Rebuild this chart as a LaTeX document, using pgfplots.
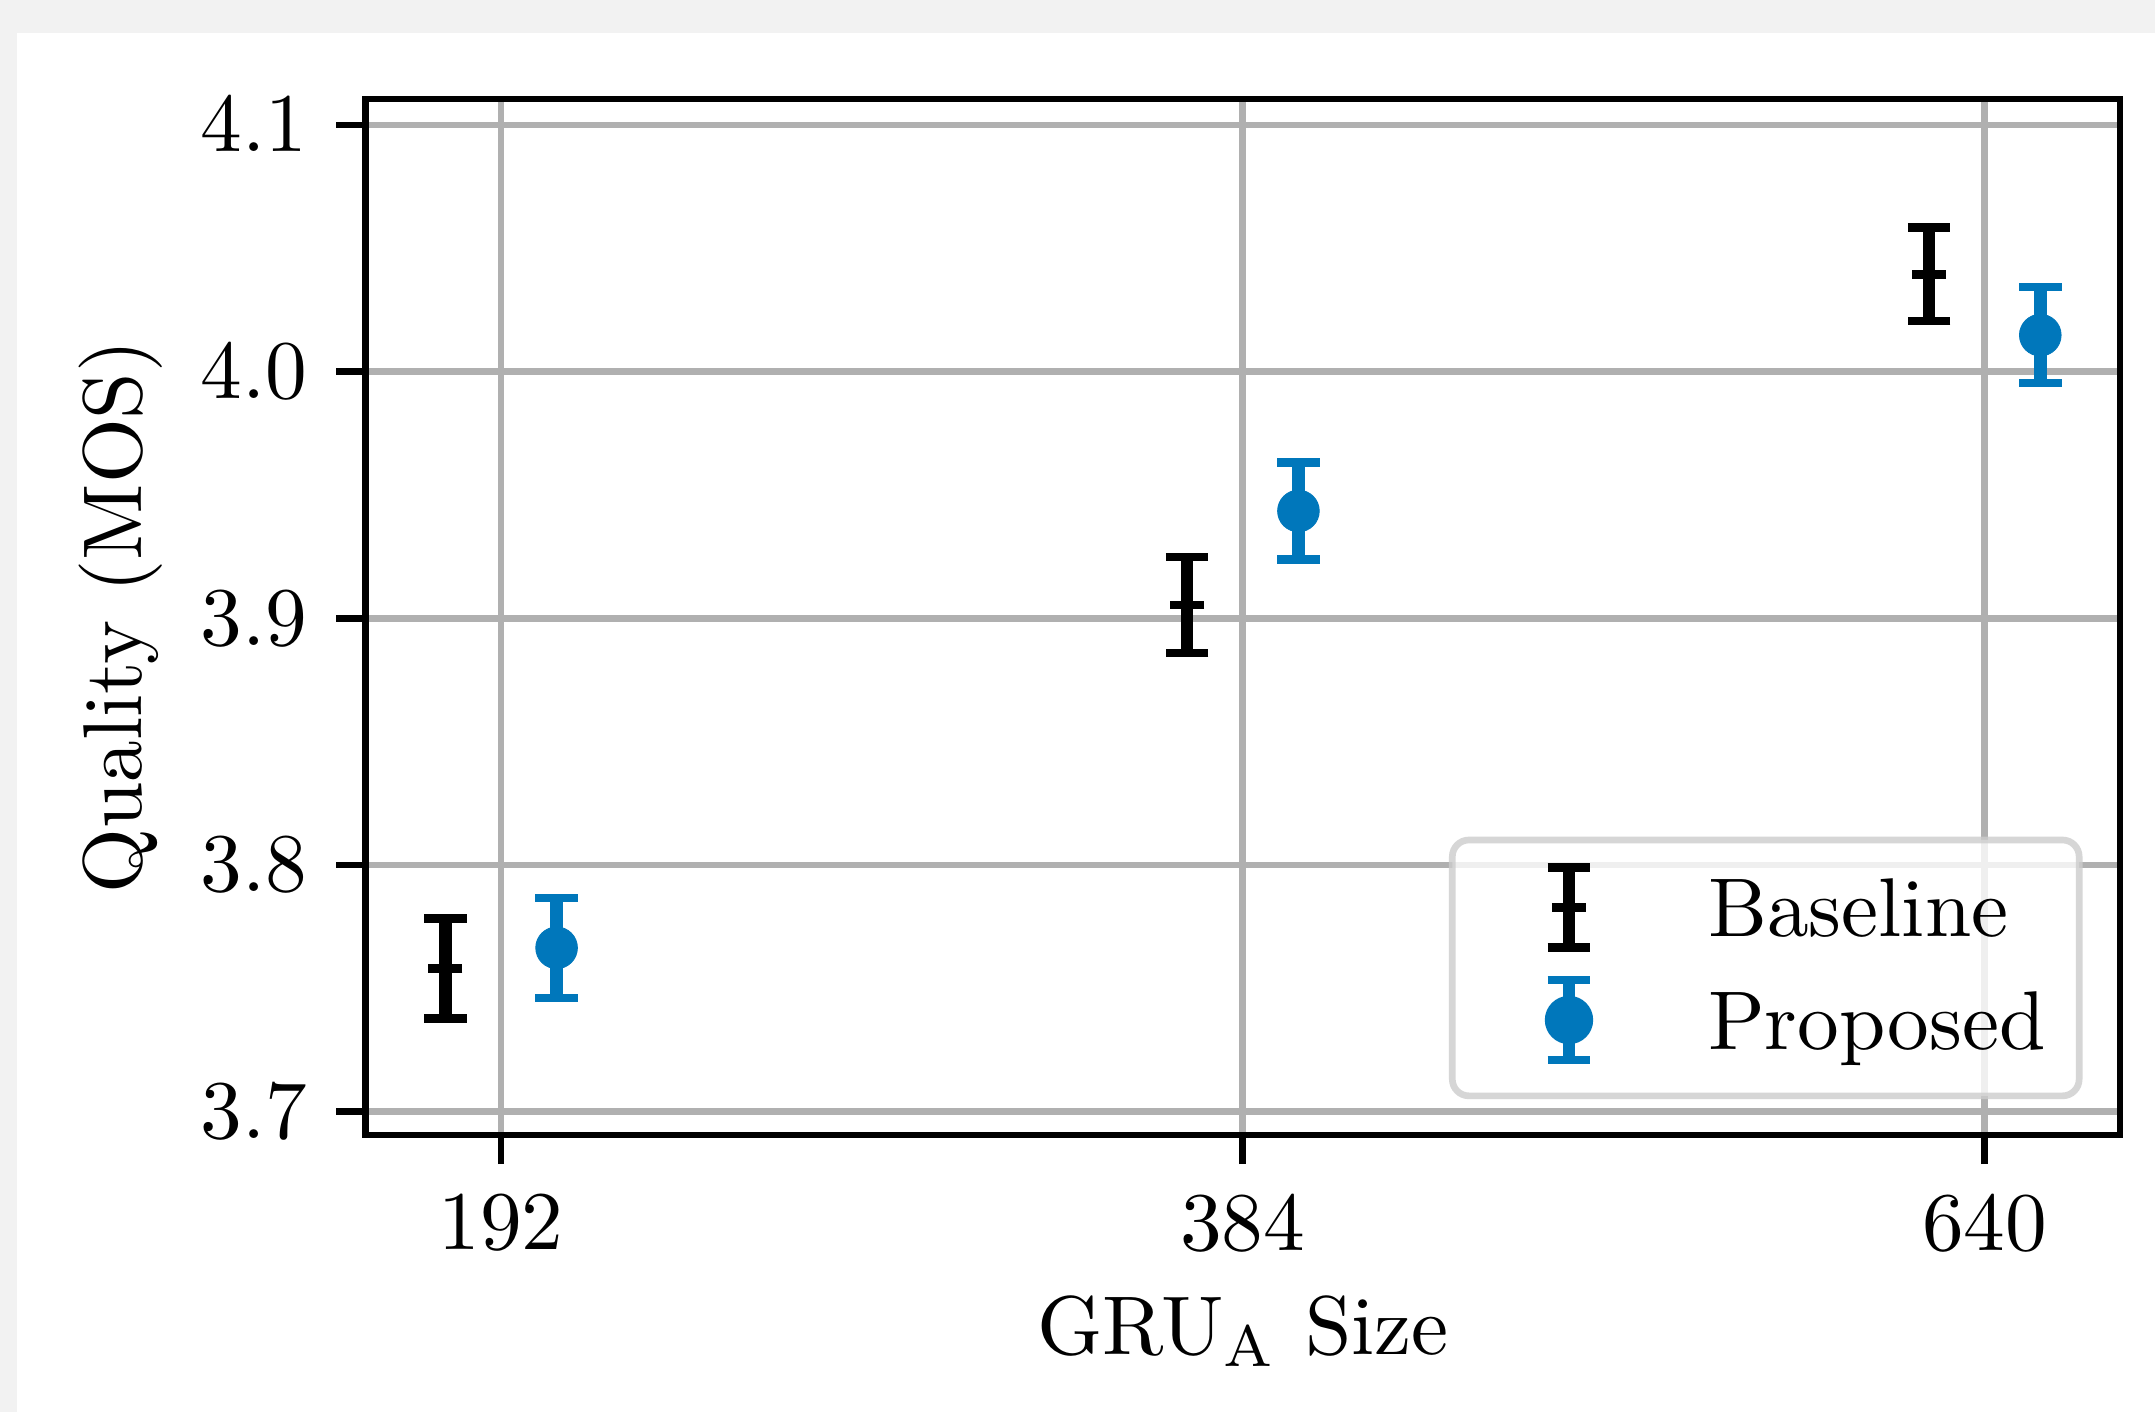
\documentclass[border=0pt]{standalone}
\usepackage{pgfplots}
\pgfplotsset{compat=1.18}
\definecolor{tolblue}{HTML}{0077BB}
\definecolor{gridgray}{HTML}{B0B0B0}
\definecolor{bggray}{HTML}{F2F2F2}
\definecolor{legframe}{HTML}{CCCCCC}
\begin{document}
\begin{tikzpicture}
\path[use as bounding box, fill=bggray] (-43.86pt,-33.24pt) rectangle (214.7pt,136.18pt);
\fill[white] (-41.76pt,-33.24pt) rectangle (214.7pt,132.22pt);
\begin{axis}[
  at={(0pt,0pt)}, anchor=south west,
  scale only axis, width=210.5pt, height=124.3pt,
  xmin=-0.1825, xmax=2.1825, ymin=3.6905, ymax=4.1105,
  xtick={0,1,2}, xticklabels={192,384,640},
  ytick={3.7,3.8,3.9,4.0,4.1},
  yticklabel style={/pgf/number format/.cd, fixed, fixed zerofill, precision=1},
  tick align=outside, xtick pos=left, ytick pos=left,
  major tick length=3.5pt,
  tick style={black, line width=0.8pt},
  axis line style={line width=0.8pt},
  grid=major, major grid style={gridgray, line width=0.8pt},
  xlabel={GRU$_{\mathrm{A}}$ Size}, ylabel={Quality (MOS)},
  xlabel style={at={(axis description cs:0.5,-0.2116)}, anchor=base},
  ylabel style={at={(axis description cs:-0.1278,0.5)}, anchor=base},
  legend cell align=left,
  legend style={at={(axis description cs:0.9786,0.0346)}, anchor=south east,
    draw=legframe, draw opacity=0.8, line width=0.8pt, rounded corners=2pt,
    fill=white, fill opacity=0.8, text opacity=1,
    inner xsep=4pt, inner ysep=4.1pt, row sep=4.5pt, column sep=6.7pt,
    nodes={inner sep=0pt, text height=7.5pt, text depth=1.5pt}},
]
\addplot[black, only marks, mark=-, mark size=2.05pt, mark options={line width=1pt},
  error bars/.cd, y dir=both, y explicit, error mark=|,
  error bar style={line width=1.5pt}, error mark options={line width=1pt, mark size=2.55pt},
  /pgfplots/legend image code/.code={
    \path[draw=none, fill=none] (0pt,0pt) -- (20pt,0pt);
    \draw[overlay, black, line width=1.5pt, opacity=1] (10pt,-4.3pt) -- (10pt,5.3pt);
    \draw[overlay, black, line width=1pt, opacity=1] (7.45pt,-4.3pt) -- (12.55pt,-4.3pt) (7.45pt,5.3pt) -- (12.55pt,5.3pt) (7.95pt,0.5pt) -- (12.05pt,0.5pt);
  }]
  table[x=x, y=y, y error=e] {
  x y e
  -0.075 3.7580 0.0203
  0.925 3.9054 0.0195
  1.925 4.0394 0.0190
  };
\addlegendentry{Baseline}
\addplot[tolblue, only marks, mark=*, mark size=2.5pt, mark options={fill=tolblue, draw=tolblue, line width=0.1pt},
  error bars/.cd, y dir=both, y explicit, error mark=|,
  error bar style={line width=1.5pt, tolblue}, error mark options={line width=1pt, mark size=2.55pt, tolblue},
  /pgfplots/legend image code/.code={
    \path[draw=none, fill=none] (0pt,0pt) -- (20pt,0pt);
    \draw[overlay, tolblue, line width=1.5pt, opacity=1] (10pt,-4.3pt) -- (10pt,5.3pt);
    \draw[overlay, tolblue, line width=1pt, opacity=1] (7.45pt,-4.3pt) -- (12.55pt,-4.3pt) (7.45pt,5.3pt) -- (12.55pt,5.3pt);
    \fill[overlay, tolblue, opacity=1] (10pt,0.5pt) circle[radius=2.5pt];
  }]
  table[x=x, y=y, y error=e] {
  x y e
  0.075 3.7664 0.0203
  1.075 3.9435 0.0196
  2.075 4.0148 0.0195
  };
\addlegendentry{Proposed}
\end{axis}
\end{tikzpicture}
\end{document}
